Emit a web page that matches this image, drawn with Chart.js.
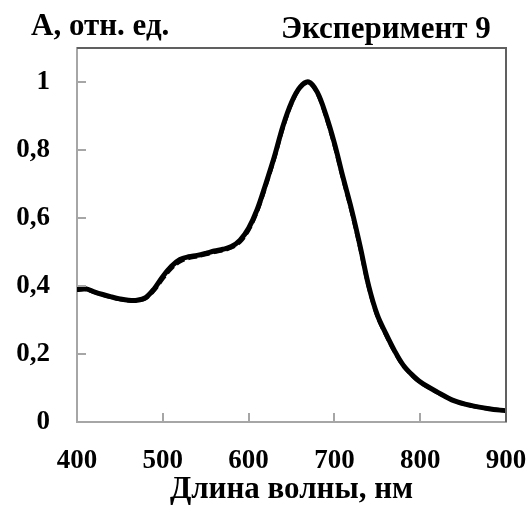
<!DOCTYPE html>
<html>
<head>
<meta charset="utf-8">
<script src="https://cdn.jsdelivr.net/npm/chart.js@4"></script>
<style>
  html, body { margin: 0; padding: 0; background: #fff; }
  #wrap { position: relative; width: 531px; height: 509px; }
  .lbl { position: absolute; font-family: "Liberation Serif", "Times New Roman", serif; font-weight: bold; color: #000; white-space: nowrap; line-height: 1; font-size: 31px; }
</style>
</head>
<body>
<div id="wrap">
  <canvas id="chart" width="531" height="509"></canvas>
  <span class="lbl" style="left:31px;top:9px">А, отн. ед.</span>
  <span class="lbl" style="left:281px;top:12px">Эксперимент 9</span>
</div>
<script>
// ── Data ─────────────────────────────────────────────────────────
const wavelengths = [400, 410, 420, 430, 440, 450, 460, 470, 480, 490, 500, 510, 520, 530, 540, 550, 560, 570, 580, 590,
  600, 610, 620, 630, 640, 650, 660, 670, 680, 690, 700, 710, 720, 730, 740, 750, 760, 770, 780, 790, 800, 820, 840, 860, 880, 900];
const absSolid = [0.39, 0.392, 0.383, 0.375, 0.368, 0.362, 0.358, 0.358, 0.366, 0.392, 0.428, 0.458, 0.478, 0.486, 0.49, 0.496, 0.503, 0.508, 0.516, 0.535,
  0.57, 0.625, 0.70, 0.78, 0.87, 0.94, 0.985, 1.0, 0.97, 0.904, 0.82, 0.72, 0.625, 0.517, 0.40, 0.315, 0.26, 0.21, 0.168, 0.14, 0.118, 0.088, 0.062, 0.048, 0.039, 0.033];
const absDashed = [0.388, 0.39, 0.382, 0.374, 0.367, 0.361, 0.357, 0.357, 0.364, 0.388, 0.422, 0.452, 0.472, 0.482, 0.487, 0.493, 0.5, 0.505, 0.513, 0.53,
  0.565, 0.62, 0.695, 0.776, 0.866, 0.937, 0.983, 0.998, 0.968, 0.9, 0.815, 0.716, 0.62, 0.512, 0.397, 0.312, 0.257, 0.208, 0.166, 0.139, 0.117, 0.087, 0.062, 0.048, 0.039, 0.033];
const xTicks = [400, 500, 600, 700, 800, 900];
const yTicks = [0, 0.2, 0.4, 0.6, 0.8, 1];

const font = { family: '"Liberation Serif", "Times New Roman", serif', weight: 'bold', size: 27 };

// inside tick marks + top/right frame
const frame = {
  id: 'frame',
  afterDraw(chart) {
    const { ctx, chartArea: a, scales: { x, y } } = chart;
    ctx.save();
    ctx.lineWidth = 2;
    ctx.strokeStyle = '#a6a6a6';
    ctx.beginPath();
    yTicks.forEach(v => { if (v > 0) { const py = Math.round(y.getPixelForValue(v)); ctx.moveTo(a.left, py); ctx.lineTo(a.left + 9, py); } });
    xTicks.forEach(v => { if (v > 400 && v < 900) { const px = Math.round(x.getPixelForValue(v)); ctx.moveTo(px, a.bottom); ctx.lineTo(px, a.bottom - 9); } });
    ctx.stroke();
    ctx.strokeStyle = '#606060';
    ctx.beginPath();
    ctx.moveTo(a.left, a.top); ctx.lineTo(a.right, a.top); ctx.lineTo(a.right, a.bottom);
    ctx.stroke();
    ctx.restore();
  }
};

new Chart(document.getElementById('chart'), {
  type: 'line',
  data: {
    labels: wavelengths,
    datasets: [
      { label: 'solid', data: wavelengths.map((w, i) => ({ x: w, y: absSolid[i] })), borderColor: '#000', borderWidth: 5, pointRadius: 0, tension: 0.35, order: 2 },
      { label: 'dashed', data: wavelengths.map((w, i) => ({ x: w, y: absDashed[i] })), borderColor: '#000', borderWidth: 4, borderDash: [9, 4], pointRadius: 0, tension: 0.35, order: 1 }
    ]
  },
  options: {
    responsive: false,
    animation: false,
    layout: { padding: { top: 48, right: 25, left: 0, bottom: 0 } },
    plugins: { legend: { display: false }, tooltip: { enabled: false } },
    scales: {
      x: {
        type: 'linear', min: 400, max: 900,
        afterBuildTicks: s => { s.ticks = xTicks.map(v => ({ value: v })); },
        afterFit: s => { s.height = 87; s.paddingLeft = 0; s.paddingRight = 0; },
        grid: { display: false, drawTicks: false },
        border: { display: true, color: '#a6a6a6', width: 2 },
        ticks: { color: '#000', font, padding: 23, maxRotation: 0 },
        title: { display: true, text: 'Длина волны, нм', color: '#000', font: { ...font, size: 31 }, padding: { top: 0, bottom: 0 } }
      },
      y: {
        min: 0, max: 1.1,
        afterBuildTicks: s => { s.ticks = yTicks.map(v => ({ value: v })); },
        afterFit: s => { s.width = 77; s.paddingTop = 0; s.paddingBottom = 0; },
        grid: { display: false, drawTicks: false },
        border: { display: true, color: '#a6a6a6', width: 2 },
        ticks: { color: '#000', font, padding: 27, callback: v => String(Math.round(v * 10) / 10).replace('.', ',') }
      }
    }
  },
  plugins: [frame]
});
</script>
</body>
</html>
